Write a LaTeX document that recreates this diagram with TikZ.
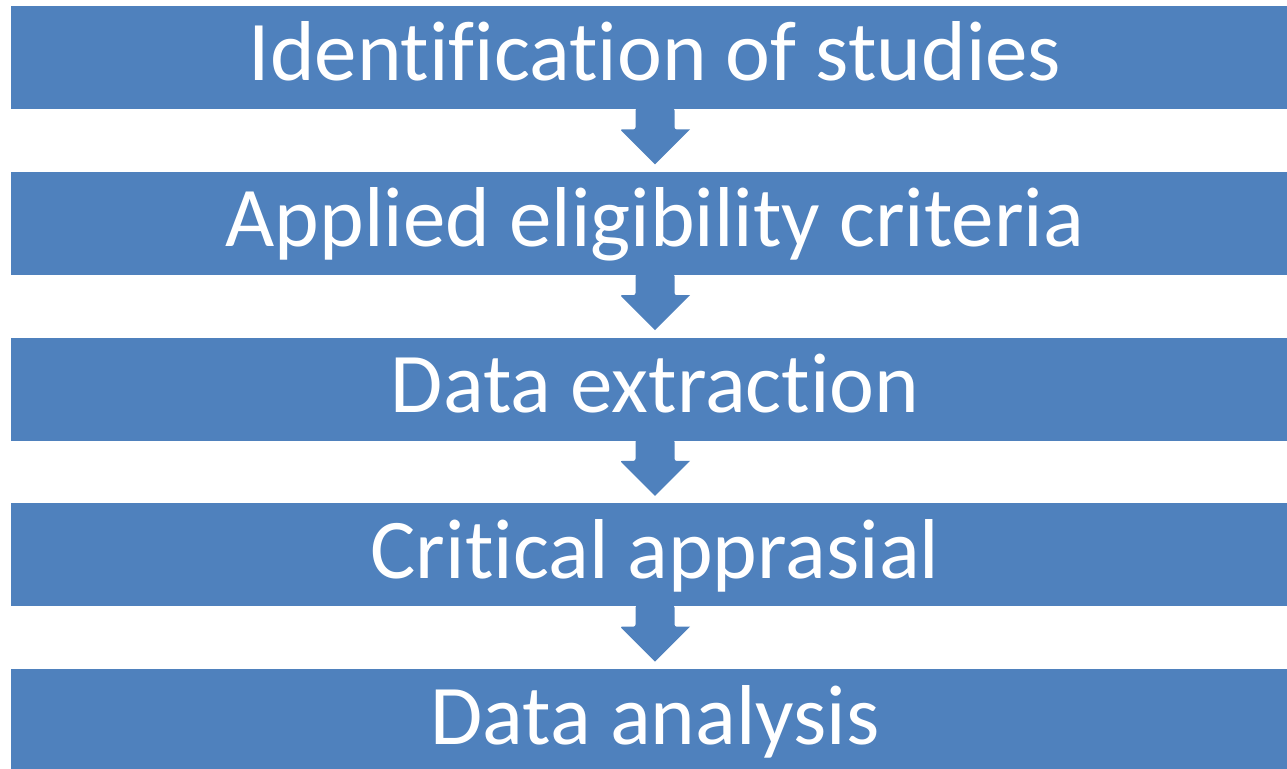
\documentclass[tikz,border=0pt]{standalone}
\usepackage{fontspec}
\setmainfont[RawFeature=-liga]{Carlito}
\definecolor{boxblue}{HTML}{4F81BD}
\begin{document}
\begin{tikzpicture}[x=1pt,y=-1pt,
  stepbox/.style={fill=boxblue,draw=none,minimum width=1290pt,minimum height=103pt,inner sep=0pt,anchor=north west},
  steptext/.style={text=white,font=\fontsize{85}{90}\selectfont,anchor=base,inner sep=0pt}]
\useasboundingbox (0,0) rectangle (1287,768);
\foreach \i/\t in {1/Identification of studies,2/Applied eligibility criteria,3/Data extraction,4/Critical apprasial,5/Data analysis}{
  \pgfmathsetmacro{\top}{6+165.75*(\i-1)}
  \node[stepbox] (b\i) at (11,\top) {};
  \node[steptext] (t\i) at (655,\top+75) {\t};
}
\foreach \i [evaluate=\i as \j using int(\i+1)] in {1,...,4}{
  \fill[boxblue,rounded corners=2pt] ([xshift=-19.5pt,yshift=1pt]b\i.south -| t\i) -- ([xshift=-19.5pt,yshift=-20pt]b\i.south -| t\i)
     -- ([xshift=-35pt,yshift=-20pt]b\i.south -| t\i) [sharp corners] -- ([yshift=-55pt]b\i.south -| t\i)
     -- ([xshift=35pt,yshift=-20pt]b\i.south -| t\i) [rounded corners=2pt] -- ([xshift=19.5pt,yshift=-20pt]b\i.south -| t\i)
     -- ([xshift=19.5pt,yshift=1pt]b\i.south -| t\i) -- cycle;
}
\end{tikzpicture}
\end{document}
